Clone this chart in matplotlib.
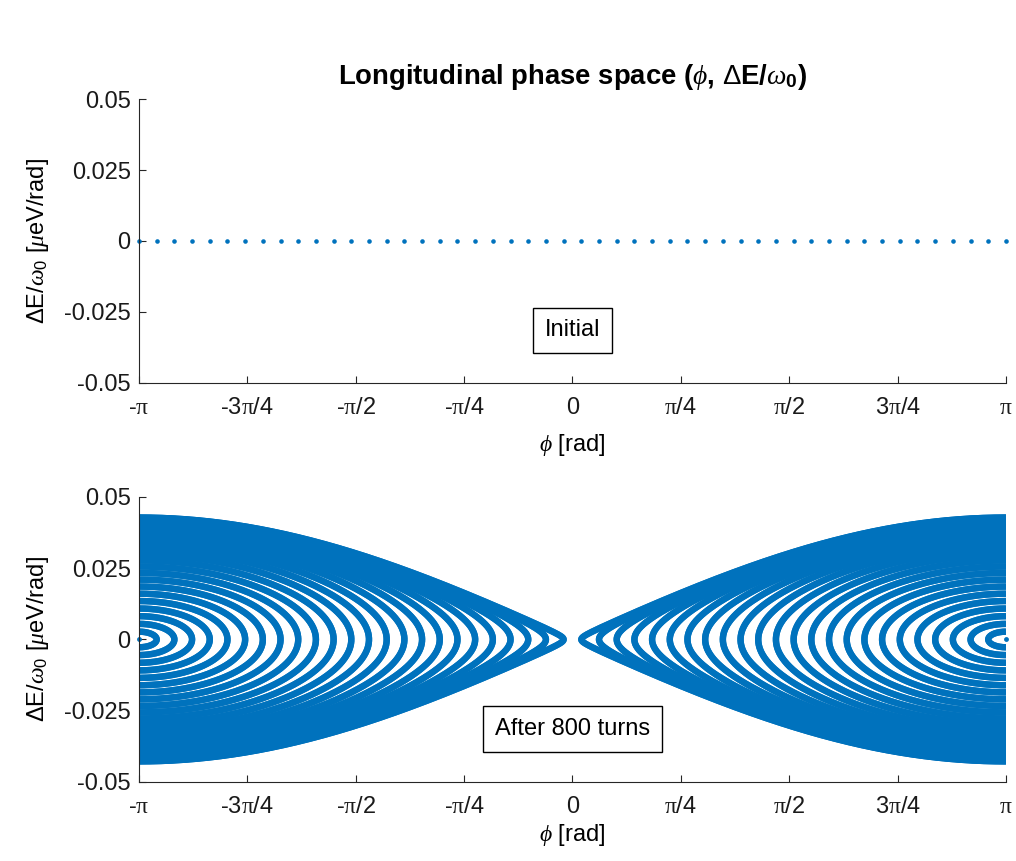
# фазовый портрет: начальное состояние и после 800 оборотов

import numpy as np
import matplotlib
matplotlib.use('Agg')
import matplotlib.pyplot as plt

# ---- данные ----
n_particles = 50                                  # частицы в начальный момент
phi_start = np.linspace(-np.pi, np.pi, n_particles)
dE_start = np.zeros(n_particles)
bucket_height = 0.0428                            # высота сепаратрисы при phi = +-pi
n_turns = 800

phi_tick_values = [-np.pi, -3 * np.pi / 4, -np.pi / 2, -np.pi / 4, 0,
                   np.pi / 4, np.pi / 2, 3 * np.pi / 4, np.pi]
phi_tick_labels = [r'-$\mathsf{\pi}$', r'-3$\mathsf{\pi}$/4', r'-$\mathsf{\pi}$/2',
                   r'-$\mathsf{\pi}$/4', '0', r'$\mathsf{\pi}$/4', r'$\mathsf{\pi}$/2',
                   r'3$\mathsf{\pi}$/4', r'$\mathsf{\pi}$']
dE_tick_values = [0.05, 0.025, 0, -0.025, -0.05]
dE_tick_labels = ['0.05', '0.025', '0', '-0.025', '-0.05']

# ---- шрифты ----
plt.rcParams['font.family'] = ['Liberation Sans', 'DejaVu Sans']
plt.rcParams['mathtext.fontset'] = 'custom'
plt.rcParams['mathtext.rm'] = 'Liberation Sans'
plt.rcParams['mathtext.it'] = 'Liberation Serif:italic'
plt.rcParams['mathtext.bf'] = 'Liberation Sans:bold'
plt.rcParams['mathtext.sf'] = 'Liberation Serif'

blue = '#0072BD'
axis_color = '#262626'
fs = 17

fig = plt.figure(figsize=(10.16, 8.61), dpi=100, facecolor='white')
ax1 = fig.add_axes([0.1368, 0.5552, 0.8533, 0.3298])
ax2 = fig.add_axes([0.1368, 0.0918, 0.8533, 0.3310])


def style_axes(ax):
    # оформление в духе matlab: без рамки, риски внутрь
    ax.set_xlim(-np.pi, np.pi)
    ax.set_ylim(-0.05, 0.05)
    ax.set_xticks(phi_tick_values)
    ax.set_xticklabels(phi_tick_labels)
    ax.set_yticks(dE_tick_values)
    ax.set_yticklabels(dE_tick_labels)
    for side in ['top', 'right']:
        ax.spines[side].set_visible(False)
    for side in ['left', 'bottom']:
        ax.spines[side].set_color(axis_color)
        ax.spines[side].set_linewidth(0.8)
    ax.tick_params(direction='in', length=5, width=0.8, colors=axis_color,
                   labelsize=fs, labelcolor='#1a1a1a')
    ax.tick_params(axis='x', pad=10)
    ax.tick_params(axis='y', pad=6)
    ax.set_ylabel(r'$\Delta$E/$\omega_0$ [$\mu$eV/rad]', fontsize=fs)
    ax.yaxis.set_label_coords(-0.102, 0.5)


# верхний график: начальное распределение
style_axes(ax1)
ax1.plot(phi_start, dE_start, 'o', color=blue, markersize=3.3,
         markeredgewidth=0, clip_on=False)
ax1.set_xlabel(r'$\phi$ [rad]', fontsize=fs)
ax1.xaxis.set_label_coords(0.5, -0.172)
ax1.set_title(r'Longitudinal phase space ($\phi$, $\Delta$E/$\omega_{\mathbf{0}}$)',
              fontsize=19.8, fontweight='bold', pad=11)
ax1.text(0, -0.0315, 'Initial', fontsize=fs, ha='center', va='center',
         bbox=dict(boxstyle='square,pad=0.5', facecolor='white',
                   edgecolor='black', linewidth=1))

# нижний график: траектории частиц вокруг устойчивой точки +-pi
style_axes(ax2)
s = np.linspace(0, 1, 800)
for p0 in phi_start:
    a = abs(p0)
    if a > np.pi - 1e-9:
        ax2.plot([p0], [0], 'o', color=blue, markersize=3.5,
                 markeredgewidth=0, clip_on=False)
        continue
    phi = a + (np.pi - a) * s ** 2
    dE = bucket_height * np.sqrt(np.clip((np.cos(a) - np.cos(phi)) / 2, 0, None))
    x = np.concatenate([phi[::-1], phi])
    y = np.concatenate([dE[::-1], -dE])
    ax2.plot(x, y, '-', color=blue, linewidth=4.6, solid_joinstyle='round',
             solid_capstyle='butt')
    ax2.plot(-x, y, '-', color=blue, linewidth=4.6, solid_joinstyle='round',
             solid_capstyle='butt')

ax2.set_xlabel(r'$\phi$ [rad]', fontsize=fs)
ax2.xaxis.set_label_coords(0.5, -0.14)
ax2.text(0, -0.0315, 'After %d turns' % n_turns, fontsize=fs, ha='center',
         va='center', zorder=5,
         bbox=dict(boxstyle='square,pad=0.5', facecolor='white',
                   edgecolor='black', linewidth=1))

fig.savefig('out.png', dpi=100, facecolor='white')
